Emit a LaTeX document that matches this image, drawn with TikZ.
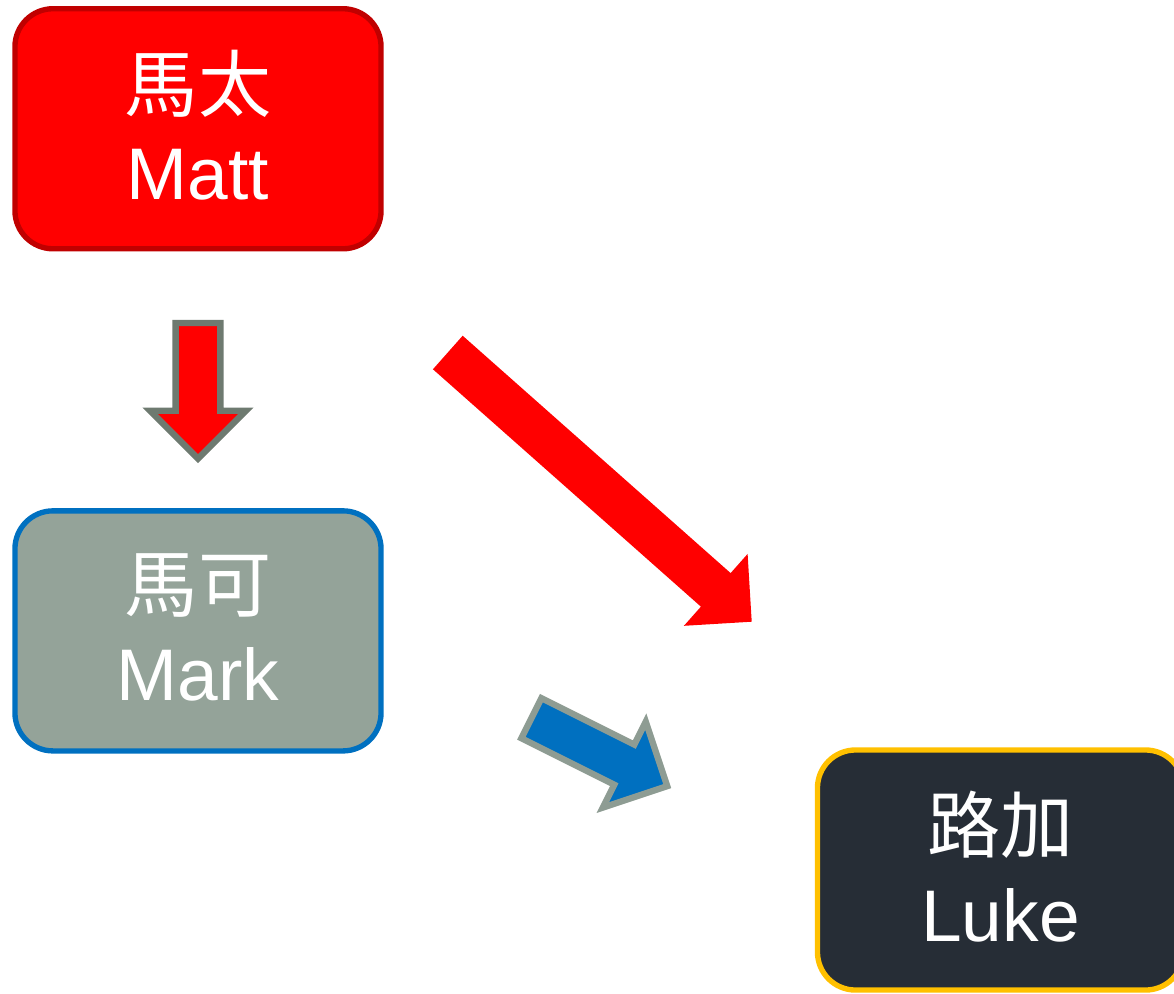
\documentclass[tikz,border=0pt]{standalone}
\usepackage{fontspec}
\setmainfont{Liberation Sans}
\newfontfamily\cjk{Noto Sans CJK TC}
\usetikzlibrary{positioning, calc}
\definecolor{mattfill}{RGB}{255,0,0}
\definecolor{mattline}{RGB}{192,0,0}
\definecolor{markfill}{RGB}{148,163,153}
\definecolor{markline}{RGB}{0,112,192}
\definecolor{lukefill}{RGB}{38,45,54}
\definecolor{lukeline}{RGB}{255,192,0}
\definecolor{darkrim}{RGB}{110,122,112}
\definecolor{lightrim}{RGB}{142,156,147}
\tikzset{
    node distance=12.55cm, % centre to centre, Matt to Mark
    gospel/.style={ % the rounded boxes
        rectangle,
        rounded corners=0.95cm,
        line width=3.8pt,
        minimum width=9.15cm,
        minimum height=6cm,
        inner sep=0pt,
        text depth=0.2cm, % lifts the two lines a little
        text=white,
        align=center,
        font=\fontsize{52pt}{63pt}\selectfont
    },
    blockbody/.style={ % filled block arrows
        line join=miter,
        line width=4.5pt
    }
}
% block arrow from #2 (tail) to #3 (tip)
\newcommand{\blockarrow}[3][]{%
    \coordinate (ah) at ($(#3)!1.2cm!(#2)$);
    \path[blockbody, #1]
        ($(#2)!0.56cm!90:(#3)$) -- ($(ah)!0.56cm!-90:(#2)$)
        -- ($(ah)!1.2cm!-90:(#2)$) -- (#3)
        -- ($(ah)!1.2cm!90:(#2)$) -- ($(ah)!0.56cm!90:(#2)$)
        -- ($(#2)!0.56cm!-90:(#3)$) -- cycle;}

\begin{document}
\begin{tikzpicture}[x=0.025cm, y=-0.025cm]
        \useasboundingbox (0,0) rectangle (1174,993);
        % boxes
        \node[gospel, draw=mattline, fill=mattfill]     (matt)  at (198,128.75) {{\cjk 馬太}\\Matt};
        \node[gospel, draw=markline, fill=markfill, below of=matt] (mark) {{\cjk 馬可}\\Mark};
        \node[gospel, draw=lukeline, fill=lukefill]     (luke)  at (1000.5,870) {{\cjk 路加}\\Luke};

        % arrow ends
        \coordinate (down-tail) at (198,323);
        \coordinate (down-tip)  at (198,458.7);
        \coordinate (diag-tail) at (447.8,352.5);
        \coordinate (diag-tip)  at (751.7,621.7);
        \coordinate (blue-tail) at (531.4,718.2);
        \coordinate (blue-tip)  at (667.2,786.1);

        % arrows
        \blockarrow[fill=mattfill, draw=darkrim]{down-tail}{down-tip}
        \blockarrow[fill=mattfill]{diag-tail}{diag-tip}
        \blockarrow[fill=markline, draw=lightrim]{blue-tail}{blue-tip}
\end{tikzpicture}
\end{document}
